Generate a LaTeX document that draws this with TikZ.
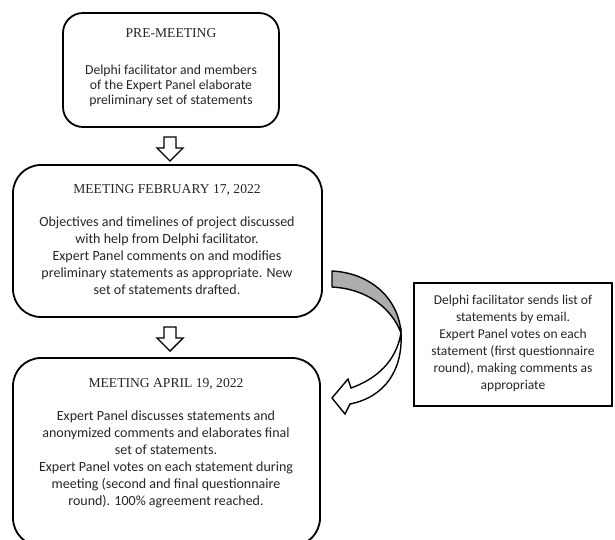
\documentclass[tikz,border=0pt]{standalone}
\usepackage{fontspec}
\setmainfont{Liberation Serif}
\newfontfamily\bodyfont{Carlito}
\begin{document}
\begin{tikzpicture}[x=1pt,y=-1pt,
  stage/.style={draw=black,line width=1.8pt,rounded corners=#1,inner sep=0pt},
  titletext/.style={font=\fontsize{13.6}{15}\selectfont,text=black!85,inner sep=0pt},
  bodytext/.style={font=\bodyfont\fontsize{14}{17}\selectfont,text=black!85,align=center,inner sep=0pt},
  blockarrow/.style={draw=black,line width=1.4pt,fill=white,line join=miter}
]
\useasboundingbox (0,0) rectangle (615,539);
\clip (0,0) rectangle (615,539);
\fill[white] (0,0) rectangle (615,539);

% boxes
\draw[stage=20pt] (63,13) rectangle (279,127);
\draw[stage=28pt] (13,165) rectangle (322,317);
\draw[stage=28pt] (13,358) rectangle (320,546);
\node[draw=black,line width=1.6pt,minimum width=198pt,minimum height=123pt,inner sep=0pt] (mail) at (513,344.5) {};

% texts
\node[titletext] (t1) at (171,33) {PRE-MEETING};
\node[bodytext,font=\bodyfont\fontsize{13.7}{15}\selectfont] (x1) at (171,86) {Delphi facilitator and members\\of the Expert Panel elaborate\\preliminary set of statements};
\node[titletext] (t2) at (167,190) {MEETING FEBRUARY 17, 2022};
\node[bodytext] (x2) at (167,256) {Objectives and timelines of project discussed\\with help from Delphi facilitator.\\Expert Panel comments on and modifies\\preliminary statements as appropriate. New\\set of statements drafted.};
\node[titletext] (t3) at (166,384) {MEETING APRIL 19, 2022};
\node[bodytext] (x3) at (166,459.5) {Expert Panel discusses statements and\\anonymized comments and elaborates final\\set of statements.\\Expert Panel votes on each statement during\\meeting (second and final questionnaire\\round). 100\% agreement reached.};
\node[bodytext,font=\bodyfont\fontsize{13.5}{17}\selectfont] (x4) at (513,343) {Delphi facilitator sends list of\\statements by email.\\Expert Panel votes on each\\statement (first questionnaire\\round), making comments as\\appropriate};

% block arrows
\coordinate (a1) at (170,137);
\coordinate (a2) at (170,327);
\foreach \a in {a1,a2}{
  \draw[blockarrow] (\a) ++(-6,0) -- ++(12,0) -- ++(0,11) -- ++(7,0) -- ++(-13,13) -- ++(-13,-13) -- ++(7,0) -- cycle;
}

% curved arrow
\draw[line width=1.4pt,fill=black!32,line join=round]
  (332,271) .. controls (372,273) and (399,300) .. (401,333)
  .. controls (392,309) and (368,289) .. (332,287) -- cycle;
\draw[line width=1.4pt,fill=white,line join=miter]
  (401,333) .. controls (403,370) and (385,397) .. (350,404)
  -- (345,414) -- (332,398) -- (348,379) -- (351,388)
  .. controls (376,379) and (396,362) .. (401,333) -- cycle;
\end{tikzpicture}
\end{document}
